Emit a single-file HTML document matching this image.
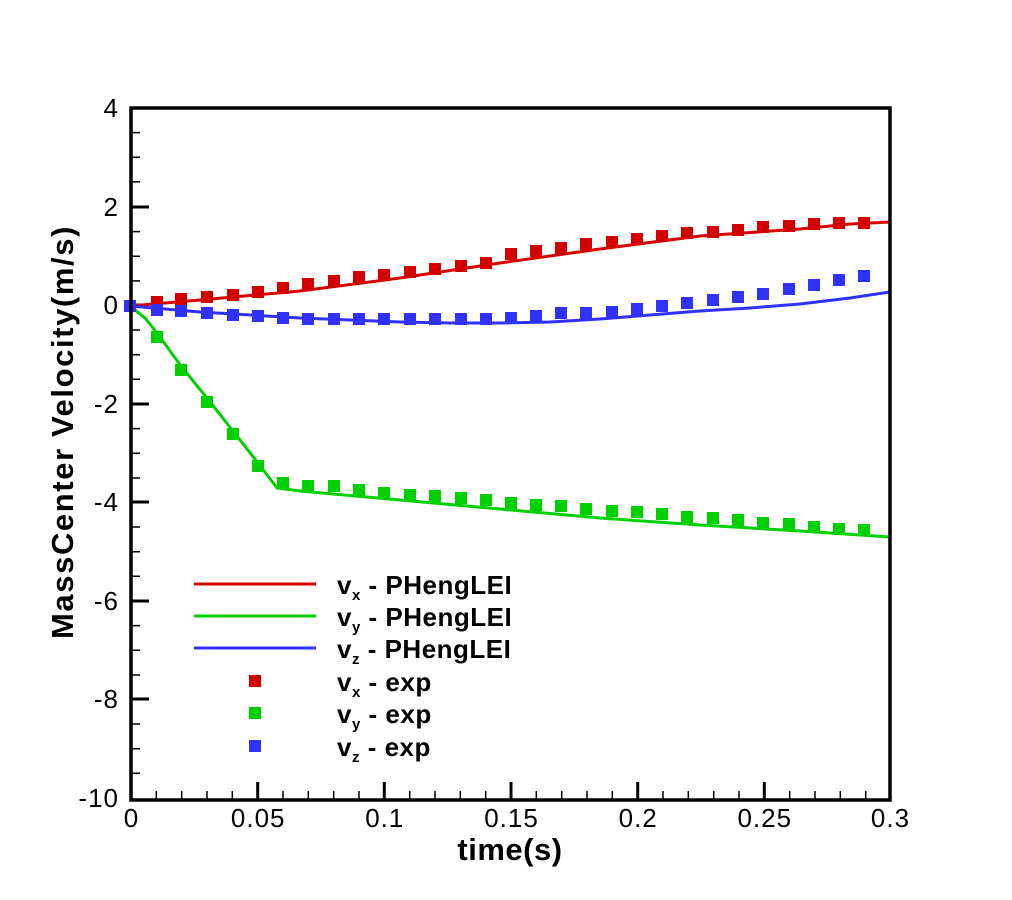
<!DOCTYPE html>
<html><head><meta charset="utf-8"><style>body{margin:0;background:#fff}svg{display:block}</style></head><body>
<svg width="1012" height="900" viewBox="0 0 1012 900" xmlns="http://www.w3.org/2000/svg" font-family="Liberation Sans, Arial, sans-serif">
<rect x="0" y="0" width="1012" height="900" fill="#fff"/>
<g stroke="#000" stroke-width="3">
<path d="M131 108h18M131 207h18M131 305h18M131 404h18M131 502h18M131 601h18M131 699h18"/>
<path stroke-width="1.5" d="M131 132.6h9M131 157.2h9M131 181.9h9M131 231.6h9M131 256.2h9M131 280.9h9M131 330h9M131 354.7h9M131 379.3h9M131 428.6h9M131 453.3h9M131 478h9M131 527h9M131 551.7h9M131 576.3h9M131 625.6h9M131 650.3h9M131 675h9M131 724h9M131 748.7h9M131 773.3h9"/>
<path d="M257.7 800v-18M384.3 800v-18M511 800v-18M637.7 800v-18M764.3 800v-18"/>
<path stroke-width="1.5" d="M156.3 800v-9M181.7 800v-9M207 800v-9M232.3 800v-9M283 800v-9M308.3 800v-9M333.7 800v-9M359 800v-9M409.7 800v-9M435 800v-9M460.3 800v-9M485.7 800v-9M536.3 800v-9M561.7 800v-9M587 800v-9M612.3 800v-9M663 800v-9M688.3 800v-9M713.7 800v-9M739 800v-9M789.7 800v-9M815 800v-9M840.3 800v-9M865.7 800v-9"/>
</g>
<g fill="none" stroke-width="3">
<polyline stroke="#d40000" points="130,306 200,300 300,291 400,278 500,263 600,249 700,236 800,229 850,224 890,222"/>
<polyline stroke="#3030ff" points="130,306 200,312 300,318 400,322 450,323 500,323 550,322 600,319 650,315 700,311 750,308 800,304 850,298 890,292"/>
<polyline stroke="#00d000" points="130,306 145,318 157,333 181,366 207,398 233,431 258,463 277,488 300,491 400,500 500,509 600,518 700,525 800,531 890,537"/>
</g>
<g fill="#d40000">
<rect x="124" y="300" width="12" height="12"/>
<rect x="151" y="296" width="12" height="12"/><rect x="175" y="293" width="12" height="12"/><rect x="201" y="291" width="12" height="12"/><rect x="227" y="289" width="12" height="12"/><rect x="252" y="286" width="12" height="12"/><rect x="277" y="282" width="12" height="12"/><rect x="302" y="278" width="12" height="12"/><rect x="328" y="275" width="12" height="12"/><rect x="353" y="271" width="12" height="12"/><rect x="378" y="269" width="12" height="12"/><rect x="404" y="266" width="12" height="12"/><rect x="429" y="263" width="12" height="12"/><rect x="455" y="260" width="12" height="12"/><rect x="480" y="257" width="12" height="12"/>
<rect x="505" y="248" width="12" height="12"/><rect x="530" y="245" width="12" height="12"/><rect x="555" y="242" width="12" height="12"/><rect x="580" y="238" width="12" height="12"/><rect x="606" y="236" width="12" height="12"/><rect x="631" y="233" width="12" height="12"/><rect x="656" y="230" width="12" height="12"/><rect x="681" y="227" width="12" height="12"/><rect x="707" y="226" width="12" height="12"/><rect x="732" y="224" width="12" height="12"/><rect x="757" y="221" width="12" height="12"/><rect x="783" y="220" width="12" height="12"/><rect x="808" y="218" width="12" height="12"/><rect x="833" y="217" width="12" height="12"/><rect x="858" y="217" width="12" height="12"/>
</g>
<g fill="#3030ff">
<rect x="124" y="300" width="12" height="12"/>
<rect x="151" y="304" width="12" height="12"/><rect x="175" y="305" width="12" height="12"/><rect x="201" y="307" width="12" height="12"/><rect x="227" y="309" width="12" height="12"/><rect x="252" y="310" width="12" height="12"/><rect x="277" y="312" width="12" height="12"/><rect x="302" y="313" width="12" height="12"/><rect x="328" y="313" width="12" height="12"/><rect x="353" y="313" width="12" height="12"/><rect x="378" y="313" width="12" height="12"/><rect x="404" y="313" width="12" height="12"/><rect x="429" y="313" width="12" height="12"/><rect x="455" y="313" width="12" height="12"/><rect x="480" y="313" width="12" height="12"/>
<rect x="505" y="312" width="12" height="12"/><rect x="530" y="310" width="12" height="12"/><rect x="555" y="307" width="12" height="12"/><rect x="580" y="307" width="12" height="12"/><rect x="606" y="306" width="12" height="12"/><rect x="631" y="303" width="12" height="12"/><rect x="656" y="300" width="12" height="12"/><rect x="681" y="297" width="12" height="12"/><rect x="707" y="294" width="12" height="12"/><rect x="732" y="291" width="12" height="12"/><rect x="757" y="288" width="12" height="12"/><rect x="783" y="283" width="12" height="12"/><rect x="808" y="279" width="12" height="12"/><rect x="833" y="274" width="12" height="12"/><rect x="858" y="270" width="12" height="12"/>
</g>
<g fill="#00d000">
<rect x="151" y="331" width="12" height="12"/><rect x="175" y="364" width="12" height="12"/><rect x="201" y="396" width="12" height="12"/><rect x="227" y="428" width="12" height="12"/><rect x="252" y="460" width="12" height="12"/><rect x="277" y="477" width="12" height="12"/><rect x="302" y="480" width="12" height="12"/><rect x="328" y="480" width="12" height="12"/><rect x="353" y="484" width="12" height="12"/><rect x="378" y="487" width="12" height="12"/><rect x="404" y="489" width="12" height="12"/><rect x="429" y="490" width="12" height="12"/><rect x="455" y="492" width="12" height="12"/><rect x="480" y="494" width="12" height="12"/>
<rect x="505" y="497" width="12" height="12"/><rect x="530" y="499" width="12" height="12"/><rect x="555" y="500" width="12" height="12"/><rect x="580" y="503" width="12" height="12"/><rect x="606" y="505" width="12" height="12"/><rect x="631" y="506" width="12" height="12"/><rect x="656" y="508" width="12" height="12"/><rect x="681" y="511" width="12" height="12"/><rect x="707" y="512" width="12" height="12"/><rect x="732" y="514" width="12" height="12"/><rect x="757" y="517" width="12" height="12"/><rect x="783" y="518" width="12" height="12"/><rect x="808" y="521" width="12" height="12"/><rect x="833" y="523" width="12" height="12"/><rect x="858" y="524" width="12" height="12"/>
</g>
<rect x="131" y="108" width="759" height="692" fill="none" stroke="#000" stroke-width="3.5"/>
<g font-size="26" fill="#000" text-anchor="end" letter-spacing="1">
<text x="119" y="117">4</text><text x="119" y="216">2</text><text x="119" y="314">0</text><text x="119" y="413">-2</text><text x="119" y="511">-4</text><text x="119" y="610">-6</text><text x="119" y="708">-8</text><text x="119" y="807">-10</text>
</g>
<g font-size="26" fill="#000" text-anchor="middle" letter-spacing="1">
<text x="131.5" y="827">0</text><text x="258.2" y="827">0.05</text><text x="384.8" y="827">0.1</text><text x="511.5" y="827">0.15</text><text x="638.2" y="827">0.2</text><text x="764.8" y="827">0.25</text><text x="890.5" y="827">0.3</text>
</g>
<text x="510" y="860" font-size="31" font-weight="bold" text-anchor="middle" letter-spacing="0.5">time(s)</text>
<text transform="translate(73,432) rotate(-90)" font-size="31" font-weight="bold" text-anchor="middle" letter-spacing="1.6">MassCenter Velocity(m/s)</text>
<g stroke-width="3">
<line x1="194" y1="584" x2="316" y2="584" stroke="#d40000"/>
<line x1="194" y1="616" x2="316" y2="616" stroke="#00d000"/>
<line x1="194" y1="648" x2="316" y2="648" stroke="#3030ff"/>
</g>
<rect x="249" y="675" width="12" height="12" fill="#d40000"/>
<rect x="249" y="707" width="12" height="12" fill="#00d000"/>
<rect x="249" y="740" width="12" height="12" fill="#3030ff"/>
<g font-size="26" font-weight="bold" fill="#000" letter-spacing="0.5">
<text x="337" y="594">v<tspan font-size="15" dy="6">x</tspan><tspan dy="-6"> - PHengLEI</tspan></text>
<text x="337" y="626">v<tspan font-size="15" dy="6">y</tspan><tspan dy="-6"> - PHengLEI</tspan></text>
<text x="337" y="658">v<tspan font-size="15" dy="6">z</tspan><tspan dy="-6"> - PHengLEI</tspan></text>
<text x="337" y="691">v<tspan font-size="15" dy="6">x</tspan><tspan dy="-6"> - exp</tspan></text>
<text x="337" y="723">v<tspan font-size="15" dy="6">y</tspan><tspan dy="-6"> - exp</tspan></text>
<text x="337" y="756">v<tspan font-size="15" dy="6">z</tspan><tspan dy="-6"> - exp</tspan></text>
</g>
</svg>
</body></html>
